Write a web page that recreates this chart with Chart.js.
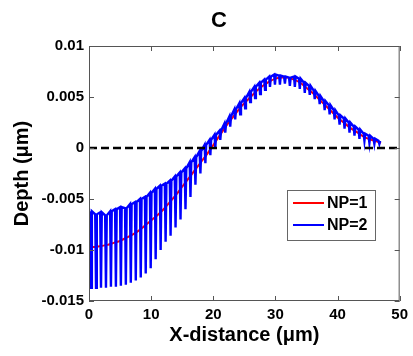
<!DOCTYPE html>
<html>
<head>
<meta charset="utf-8">
<script src="https://cdn.jsdelivr.net/npm/chart.js@4.4.0/dist/chart.umd.min.js"></script>
<style>
  html, body { margin: 0; padding: 0; background: #fff; }
</style>
</head>
<body>
<canvas id="myChart" width="413" height="356"></canvas>
<script>
const chartTitle = 'C';
const xTitle = 'X-distance (\u03bcm)';
const yTitle = 'Depth (\u03bcm)';

const yTickValues = [-0.015, -0.01, -0.005, 0, 0.005, 0.01];
const yTickLabels = ['-0.015', '-0.01', '-0.005', '0', '0.005', '0.01'];

// NP=1, smooth profile
const np1X = [0, 1, 2, 3, 4, 5, 6, 7, 8, 9, 10, 11, 12, 13, 14, 15, 16, 17, 18, 19, 20, 21, 22, 23,
    24, 25, 26, 27, 28, 29, 30, 31, 32, 33, 34, 35, 36, 37, 38, 39, 40, 41, 42, 43, 44, 45, 46, 47];
const np1Y = [-0.0097, -0.0097, -0.0096, -0.0095, -0.0093, -0.0091, -0.0088, -0.0085, -0.0081, -0.0076,
    -0.0071, -0.0066, -0.0060, -0.0053, -0.0046, -0.0038, -0.0030, -0.0022, -0.0014, -0.0006,
    0.0003, 0.0012, 0.0021, 0.0029, 0.0037, 0.0044, 0.0050, 0.0056, 0.0061, 0.0065,
    0.0068, 0.0069, 0.0069, 0.0067, 0.0064, 0.0059, 0.0054, 0.0048, 0.0042, 0.0036,
    0.0030, 0.0025, 0.0020, 0.0016, 0.0012, 0.0009, 0.0007, 0.0005];

// NP=2, oscillating profile: one spike per entry (top, bottom)
const np2X = [0.2, 1.0, 1.8, 2.6, 3.4, 4.2, 5.0, 5.8, 6.6, 7.4, 8.2, 9.0, 9.8, 10.6, 11.4, 12.2, 13.0,
    13.8, 14.6, 15.4, 16.2, 17.0, 17.8, 18.6, 19.4, 20.2, 21.0, 21.8, 22.6, 23.4, 24.2, 25.0, 25.8,
    26.6, 27.4, 28.2, 29.0, 29.8, 30.6, 31.4, 32.2, 33.0, 33.8, 34.6, 35.4, 36.2, 37.0, 37.8, 38.6,
    39.4, 40.2, 41.0, 41.8, 42.6, 43.4, 44.2, 45.0, 45.8, 46.6];
const np2Top = [-0.0062, -0.0065, -0.0063, -0.0066, -0.0062, -0.0060, -0.0058, -0.0059, -0.0055, -0.0053,
    -0.0050, -0.0048, -0.0044, -0.0040, -0.0037, -0.0035, -0.0032, -0.0028, -0.0024, -0.0020,
    -0.0014, -0.0009, -0.0003, 0.0003, 0.0008, 0.0013, 0.0017, 0.0024, 0.0031, 0.0038,
    0.0044, 0.0049, 0.0055, 0.0060, 0.0064, 0.0067, 0.0070, 0.0072, 0.0071, 0.0070,
    0.0069, 0.0070, 0.0068, 0.0064, 0.0061, 0.0056, 0.0051, 0.0046, 0.0042, 0.0037,
    0.0032, 0.0029, 0.0025, 0.0021, 0.0018, 0.0014, 0.0012, 0.0009, 0.0007];
const np2Bottom = [-0.0137, -0.0137, -0.0137, -0.0137, -0.0136, -0.0136, -0.0135, -0.0134, -0.0132, -0.0130,
    -0.0127, -0.0123, -0.0118, -0.0109, -0.0100, -0.0092, -0.0086, -0.0078, -0.0070, -0.0060,
    -0.0048, -0.0036, -0.0025, -0.0015, -0.0007, 0.0000, 0.0008, 0.0015, 0.0021, 0.0028,
    0.0033, 0.0039, 0.0045, 0.0049, 0.0053, 0.0057, 0.0060, 0.0062, 0.0062, 0.0063,
    0.0061, 0.0060, 0.0058, 0.0054, 0.0052, 0.0048, 0.0043, 0.0037, 0.0033, 0.0028,
    0.0023, 0.0019, 0.0015, 0.0012, 0.0009, 0.0007, 0.0005, 0.0004, 0.0004];

const zeroX = [0, 50];
const zeroY = [0, 0];

const legendLabels = ['NP=1', 'NP=2'];
const FONT = '"Liberation Sans", Arial, sans-serif';

function toPoints(xs, ys) {
    let pts = [];
    for (let i = 0; i < xs.length; i++) {
        pts.push({x: xs[i], y: ys[i]});
    }
    return pts;
}

function spikePoints() {
    let pts = [];
    for (let i = 0; i < np2X.length; i++) {
        pts.push({x: np2X[i], y: np2Top[i]});
        pts.push({x: np2X[i] + 0.13, y: np2Bottom[i]});
        pts.push({x: np2X[i] + 0.26, y: np2Top[i]});
    }
    return pts;
}

// box, inward ticks, title and legend, MATLAB style
const matlabFrame = {
    id: 'matlabFrame',
    afterDatasetsDraw(chart) {
        const {ctx, chartArea: a, scales} = chart;
        ctx.save();
        ctx.strokeStyle = '#555';
        ctx.lineWidth = 1;
        ctx.strokeRect(a.left + 0.5, a.top + 0.5, a.width - 1, a.height - 1);
        ctx.beginPath();
        scales.x.ticks.forEach(t => {
            const px = Math.round(scales.x.getPixelForValue(t.value)) + 0.5;
            ctx.moveTo(px, a.bottom); ctx.lineTo(px, a.bottom - 5);
            ctx.moveTo(px, a.top); ctx.lineTo(px, a.top + 5);
        });
        scales.y.ticks.forEach(t => {
            const py = Math.round(scales.y.getPixelForValue(t.value)) + 0.5;
            ctx.moveTo(a.left, py); ctx.lineTo(a.left + 5, py);
            ctx.moveTo(a.right, py); ctx.lineTo(a.right - 5, py);
        });
        ctx.stroke();

        ctx.fillStyle = '#000';
        ctx.font = 'bold 22px ' + FONT;
        ctx.textAlign = 'center';
        ctx.textBaseline = 'middle';
        ctx.fillText(chartTitle, 219, 21);

        // legend
        ctx.fillStyle = '#fff';
        ctx.fillRect(287, 190, 88, 50);
        ctx.strokeStyle = '#666';
        ctx.strokeRect(287.5, 190.5, 88, 50);
        const colors = ['#ff0000', '#0000ff'];
        const rows = [203, 225];
        ctx.font = 'bold 16px ' + FONT;
        ctx.textAlign = 'left';
        for (let i = 0; i < legendLabels.length; i++) {
            ctx.strokeStyle = colors[i];
            ctx.lineWidth = 2;
            ctx.beginPath();
            ctx.moveTo(293, rows[i]);
            ctx.lineTo(324, rows[i]);
            ctx.stroke();
            ctx.fillStyle = '#000';
            ctx.fillText(legendLabels[i], 327, rows[i] + 1);
        }
        ctx.restore();
    }
};

const ctx = document.getElementById('myChart');

new Chart(ctx, {
    type: 'line',
    data: {
        datasets: [{
            label: 'zero',
            data: toPoints(zeroX, zeroY),
            borderColor: '#000',
            borderWidth: 2.5,
            borderDash: [8, 4],
            pointRadius: 0,
            order: 0,
        }, {
            label: legendLabels[1],
            data: spikePoints(),
            borderColor: '#0000ff',
            borderWidth: 2.4,
            pointRadius: 0,
            tension: 0,
            order: 1,
        }, {
            label: legendLabels[0],
            data: toPoints(np1X, np1Y),
            borderColor: '#ff0000',
            borderWidth: 2,
            pointRadius: 0,
            tension: 0.3,
            order: 2,
        }]
    },
    options: {
        responsive: false,
        animation: false,
        layout: {
            padding: {top: 46, right: 12, left: 0, bottom: 0}
        },
        scales: {
            x: {
                type: 'linear',
                min: 0,
                max: 50,
                grid: {display: false, drawTicks: false},
                border: {display: false},
                ticks: {
                    stepSize: 10,
                    padding: 5,
                    color: '#000',
                    maxRotation: 0,
                    font: {family: FONT, size: 15, weight: 'bold'}
                },
                title: {
                    display: true,
                    text: xTitle,
                    color: '#000',
                    padding: {top: 0, bottom: 9},
                    font: {family: FONT, size: 20, weight: 'bold'}
                },
                afterFit: (scale) => { scale.height = 55; }
            },
            y: {
                type: 'linear',
                min: -0.015,
                max: 0.01,
                grid: {display: false, drawTicks: false},
                border: {display: false},
                afterBuildTicks: (scale) => {
                    scale.ticks = yTickValues.map(v => ({value: v}));
                },
                ticks: {
                    padding: 5,
                    color: '#000',
                    font: {family: FONT, size: 15, weight: 'bold'},
                    callback: (value, index) => yTickLabels[index]
                },
                title: {
                    display: true,
                    text: yTitle,
                    color: '#000',
                    padding: {top: 10, bottom: 0},
                    font: {family: FONT, size: 20, weight: 'bold'}
                },
                afterFit: (scale) => { scale.width = 89; }
            }
        },
        plugins: {
            legend: {display: false},
            title: {display: false},
            tooltip: {enabled: false}
        }
    },
    plugins: [matlabFrame]
});
</script>
</body>
</html>
